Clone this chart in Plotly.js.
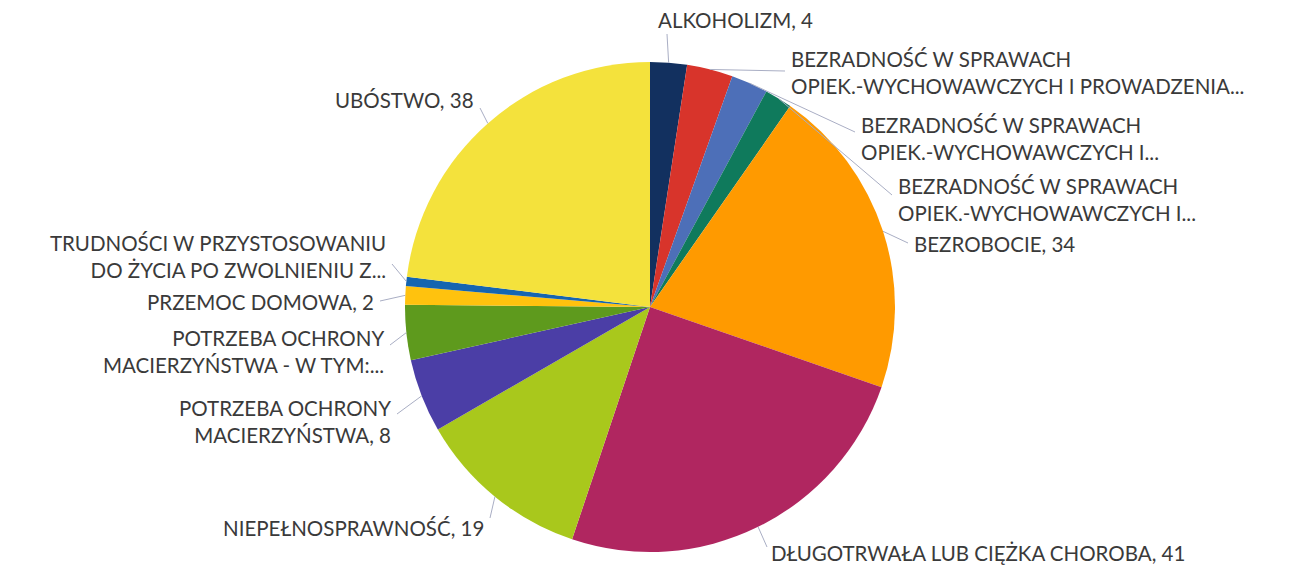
<!DOCTYPE html>
<html>
<head>
<meta charset="utf-8">
<script src="https://cdn.plot.ly/plotly-3.0.1.min.js"></script>
<style>html,body{margin:0;padding:0;background:#fff;}#chart{width:1290px;height:567px;}</style>
</head>
<body>
<div id="chart"></div>
<script>
// ---- data ----
const categories = [
  "ALKOHOLIZM",
  "BEZRADNOŚĆ W SPRAWACH<br>OPIEK.-WYCHOWAWCZYCH I PROWADZENIA...",
  "BEZRADNOŚĆ W SPRAWACH<br>OPIEK.-WYCHOWAWCZYCH I...",
  "BEZRADNOŚĆ W SPRAWACH<br>OPIEK.-WYCHOWAWCZYCH I...",
  "BEZROBOCIE",
  "DŁUGOTRWAŁA LUB CIĘŻKA CHOROBA",
  "NIEPEŁNOSPRAWNOŚĆ",
  "POTRZEBA OCHRONY<br>MACIERZYŃSTWA",
  "POTRZEBA OCHRONY<br>MACIERZYŃSTWA - W TYM:...",
  "PRZEMOC DOMOWA",
  "TRUDNOŚCI W PRZYSTOSOWANIU<br>DO ŻYCIA PO ZWOLNIENIU Z...",
  "UBÓSTWO"
];
const values = [4, 5, 4, 3, 34, 41, 19, 8, 6, 2, 1, 38];
const showValue = [true, false, false, false, true, true, true, true, false, true, false, true];
const colors = ["#12305f", "#d8342b", "#4d6fb8", "#0f7a5c", "#ff9a00", "#b02660",
                "#a9c81c", "#4b3ea6", "#5e9a1d", "#ffc20e", "#1565b0", "#f4e23c"];

// ---- layout (pixels) ----
const W = 1290, H = 567;
const CX = 650, CY = 307, R = 245;
// label anchor: [x, y, side], leader end: [x, y]
const labelPos = [
  [657, 20, "left"], [790, 72, "left"], [860, 138, "left"], [897, 199, "left"],
  [913, 244, "left"], [770, 553, "left"], [485, 528, "right"], [392, 421, "right"],
  [385, 351, "right"], [375, 302, "right"], [387, 256, "right"], [475, 100, "right"]
];
const leaderEnd = [
  [667, 34], [785, 71], [855, 132], [892, 195], [908, 243], [767, 547],
  [490, 518], [397, 414], [390, 345], [380, 301], [392, 264], [480, 108]
];

const px = x => x / W;
const py = y => 1 - y / H;

const total = values.reduce((a, b) => a + b, 0);
let cum = 0;
const annotations = [], shapes = [];
values.forEach((v, i) => {
  const mid = (cum + v / 2) / total * 2 * Math.PI;
  cum += v;
  const ex = CX + R * Math.sin(mid), ey = CY - R * Math.cos(mid);
  shapes.push({type: "line", xref: "paper", yref: "paper",
    x0: px(ex), y0: py(ey), x1: px(leaderEnd[i][0]), y1: py(leaderEnd[i][1]),
    line: {color: "#a9aec4", width: 1}});
  const txt = categories[i] + (showValue[i] ? ", " + v : "");
  annotations.push({xref: "paper", yref: "paper", x: px(labelPos[i][0]), y: py(labelPos[i][1]),
    xanchor: labelPos[i][2], yanchor: "middle", align: labelPos[i][2],
    text: txt, showarrow: false, borderpad: 0,
    font: {family: "Lato, sans-serif", size: 20.5, color: "#3a3a3a"}});
});

const trace = {
  type: "pie",
  labels: values.map((_, i) => "k" + i),
  values: values,
  sort: false,
  direction: "clockwise",
  rotation: 0,
  textinfo: "none",
  hoverinfo: "none",
  marker: {colors: colors, line: {width: 0}},
  domain: {x: [px(CX - R), px(CX + R)], y: [py(CY + R), py(CY - R)]},
  showlegend: false
};

Plotly.newPlot("chart", [trace], {
  width: W, height: H,
  margin: {l: 0, r: 0, t: 0, b: 0},
  paper_bgcolor: "#fff",
  showlegend: false,
  annotations: annotations,
  shapes: shapes
}, {displayModeBar: false, staticPlot: true});
</script>
</body>
</html>
